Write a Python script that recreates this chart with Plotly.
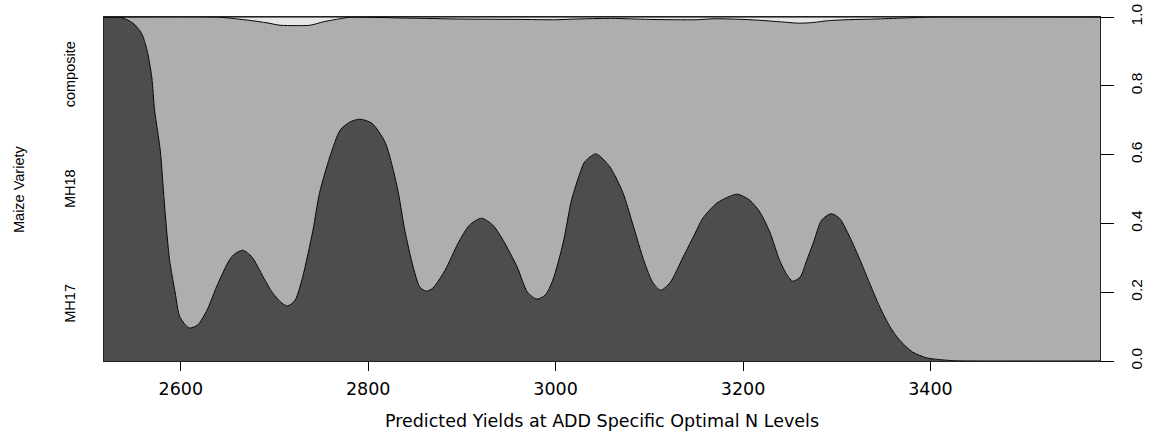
import plotly.graph_objects as go

# ---- data (conditional density plot) ----
categories = ["MH17", "MH18", "composite"]
category_share = [0.333, 0.334, 0.333]

# cumulative P(MH17 | yield)
yield_mh17 = [2518, 2535, 2549, 2558, 2564, 2569, 2572, 2578, 2583, 2588, 2594, 2599,
              2609, 2618, 2628, 2638, 2650, 2656, 2666, 2676, 2688, 2698, 2708, 2714,
              2722, 2730, 2741, 2748, 2759, 2770, 2780, 2791, 2804, 2818, 2831, 2839,
              2848, 2855, 2862, 2869, 2882, 2896, 2908, 2921, 2933, 2944, 2959, 2970,
              2980, 2989, 2997, 3008, 3017, 3026, 3031, 3043, 3058, 3072, 3082, 3095,
              3104, 3112, 3122, 3136, 3149, 3157, 3172, 3186, 3194, 3207, 3218, 3229,
              3239, 3247, 3253, 3261, 3268, 3275, 3284, 3294, 3303, 3314, 3325, 3335,
              3346, 3357, 3367, 3381, 3396, 3403, 3424, 3500, 3581]
p_mh17 = [1.000, 1.000, 0.982, 0.953, 0.903, 0.825, 0.729, 0.613, 0.439, 0.293, 0.198, 0.128,
          0.096, 0.105, 0.148, 0.215, 0.285, 0.308, 0.322, 0.302, 0.244, 0.198, 0.168, 0.160,
          0.177, 0.244, 0.380, 0.488, 0.593, 0.671, 0.694, 0.703, 0.691, 0.636, 0.505, 0.380,
          0.273, 0.215, 0.203, 0.212, 0.264, 0.343, 0.395, 0.415, 0.395, 0.351, 0.273, 0.200,
          0.180, 0.192, 0.235, 0.343, 0.468, 0.546, 0.579, 0.602, 0.564, 0.488, 0.401, 0.285,
          0.227, 0.206, 0.227, 0.302, 0.372, 0.415, 0.459, 0.479, 0.485, 0.468, 0.433, 0.372,
          0.293, 0.250, 0.232, 0.244, 0.293, 0.343, 0.410, 0.428, 0.415, 0.360, 0.293, 0.227,
          0.157, 0.099, 0.061, 0.026, 0.009, 0.006, 0.001, 0.000, 0.000]

# cumulative P(MH17 or MH18 | yield)
yield_top = [2518, 2638, 2658, 2674, 2692, 2706, 2722, 2738, 2752, 2770, 2780, 2840,
             2900, 2960, 3000, 3020, 3060, 3100, 3150, 3170, 3200, 3220, 3240, 3260,
             3275, 3290, 3310, 3340, 3370, 3390, 3400, 3581]
p_mh17_mh18 = [1.000, 1.000, 0.995, 0.990, 0.983, 0.976, 0.975, 0.976, 0.986, 0.995, 0.999, 0.997,
               0.994, 0.993, 0.992, 0.994, 0.996, 0.993, 0.992, 0.995, 0.993, 0.990, 0.986, 0.982,
               0.984, 0.989, 0.992, 0.994, 0.997, 0.999, 1.000, 1.000]

x_ticks = [2600, 2800, 3000, 3200, 3400]
y_ticks = [0.0, 0.2, 0.4, 0.6, 0.8, 1.0]

colors = ["#4D4D4D", "#AEAEAE", "#E6E6E6"]

fig = go.Figure()
fig.add_trace(go.Scatter(x=yield_mh17, y=p_mh17, mode="lines", fill="tozeroy",
                         fillcolor=colors[0], line=dict(color="black", width=1, shape="spline", smoothing=0.7),
                         hoverinfo="skip"))
fig.add_trace(go.Scatter(x=yield_top, y=p_mh17_mh18, mode="lines", fill="tonexty",
                         fillcolor=colors[1], line=dict(color="black", width=1, shape="spline", smoothing=0.7),
                         hoverinfo="skip"))
fig.add_trace(go.Scatter(x=[yield_top[0], yield_top[-1]], y=[1, 1], mode="lines", fill="tonexty",
                         fillcolor=colors[2], line=dict(color="black", width=1),
                         hoverinfo="skip"))

# category labels on the left (midpoints of cumulative shares)
cum = 0.0
for name, share in zip(categories, category_share):
    mid = cum + share / 2
    cum += share
    fig.add_annotation(x=0, y=mid, xref="paper", yref="y", text=name, showarrow=False,
                       textangle=-90, xanchor="center", yanchor="middle", xshift=-34,
                       font=dict(family="Liberation Sans, Arial", size=14.5, color="black"))
fig.add_annotation(x=0, y=0.5, xref="paper", yref="paper", text="Maize Variety", showarrow=False,
                   textangle=-90, xanchor="center", yanchor="middle", xshift=-85,
                   font=dict(family="Liberation Sans, Arial", size=14.5, color="black"))

fig.update_layout(
    width=1149, height=435,
    margin=dict(l=104, r=49, t=17, b=74, autoexpand=False),
    paper_bgcolor="white", plot_bgcolor="white",
    showlegend=False,
    xaxis=dict(range=[2518, 3581], tickvals=x_ticks, ticks="outside", ticklen=9,
               tickcolor="black", tickwidth=1, showgrid=False, zeroline=False,
               showline=True, mirror=True, linecolor="#222", linewidth=1,
               ticklabelstandoff=3, automargin=False,
               tickfont=dict(family="DejaVu Sans", size=17.5, color="black"),
               title=dict(text="Predicted Yields at ADD Specific Optimal N Levels",
                          font=dict(family="DejaVu Sans", size=17.5, color="black"), standoff=16)),
    yaxis=dict(range=[0, 1], side="right", tickvals=y_ticks, ticktext=[f"{v:.1f}" for v in y_ticks],
               ticks="outside", ticklen=13, tickcolor="black", tickwidth=1, tickangle=-90,
               ticklabelstandoff=9, automargin=False,
               showgrid=False, zeroline=False, showline=True, mirror=True,
               linecolor="#222", linewidth=1,
               tickfont=dict(family="Liberation Sans, Arial", size=15.5, color="black")),
)

fig.write_html("out.html")
